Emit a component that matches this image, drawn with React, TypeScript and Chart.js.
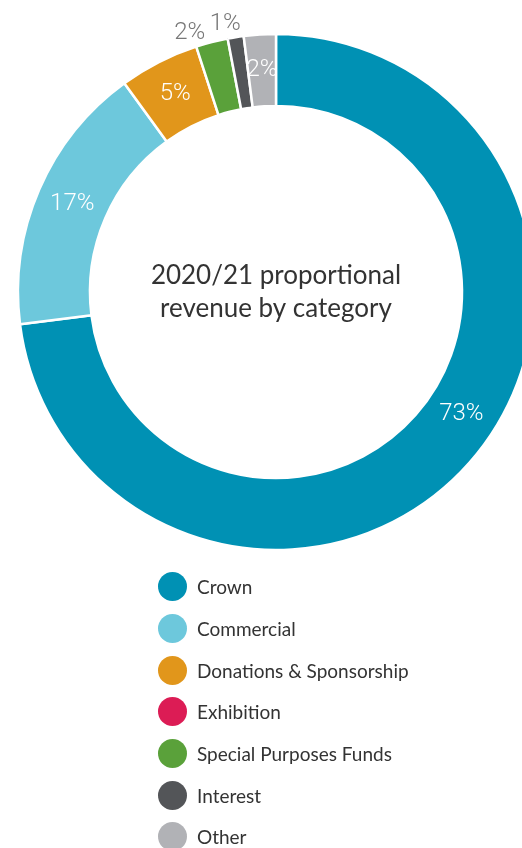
import React, { useEffect, useRef } from "react";
import { Chart, registerables } from "chart.js";

Chart.register(...registerables);

const categories = [
  "Crown",
  "Commercial",
  "Donations & Sponsorship",
  "Exhibition",
  "Special Purposes Funds",
  "Interest",
  "Other",
];
const shares = [73, 17, 5, 0, 2, 1, 2];
const sliceColors = [
  "#0091b4",
  "#6dc8dc",
  "#e1961b",
  "#dc1c55",
  "#5aa13a",
  "#535558",
  "#b1b2b6",
];
const titleLines = ["2020/21 proportional", "revenue by category"];

// label styling: which slices get an outside (grey) label, and small angle nudges (degrees)
const outsideLabel = [false, false, false, false, true, true, false];
const labelNudgeDeg = [-8, 0, 0, 0, -4, -1.7, 0];

const TEXT_FONT = "Lato, 'Noto Sans', sans-serif";

const labelPlugin = {
  id: "sliceLabels",
  afterDatasetsDraw(chart: any) {
    const { ctx } = chart;
    const meta = chart.getDatasetMeta(0);
    const data = chart.data.datasets[0].data as number[];
    ctx.save();
    ctx.font = "300 24px Roboto, sans-serif";
    ctx.textAlign = "center";
    ctx.textBaseline = "middle";
    meta.data.forEach((arc: any, i: number) => {
      const v = data[i];
      if (!v) return;
      const p = arc.getProps(["x", "y", "startAngle", "endAngle", "innerRadius", "outerRadius"], true);
      const a = (p.startAngle + p.endAngle) / 2 + (labelNudgeDeg[i] * Math.PI) / 180;
      let r: number;
      if (outsideLabel[i]) {
        r = p.outerRadius + 15;
        ctx.fillStyle = "#777777";
      } else {
        r = (p.innerRadius + p.outerRadius) / 2;
        ctx.fillStyle = "#ffffff";
      }
      ctx.fillText(v + "%", p.x + Math.cos(a) * r, p.y + Math.sin(a) * r);
    });
    ctx.restore();
  },
};

const centerTextPlugin = {
  id: "centerText",
  afterDraw(chart: any) {
    const { ctx } = chart;
    const meta = chart.getDatasetMeta(0);
    const arc = meta.data[0];
    if (!arc) return;
    ctx.save();
    ctx.font = "400 26px " + TEXT_FONT;
    ctx.fillStyle = "#333333";
    ctx.textAlign = "center";
    ctx.textBaseline = "middle";
    const lh = 33;
    titleLines.forEach((t, i) => {
      ctx.fillText(t, arc.x, arc.y + (i - (titleLines.length - 1) / 2) * lh);
    });
    ctx.restore();
  },
};

export default function App() {
  const ref = useRef<HTMLCanvasElement | null>(null);
  useEffect(() => {
    if (!ref.current) return;
    const chart = new Chart(ref.current, {
      type: "doughnut",
      data: {
        labels: categories,
        datasets: [
          {
            data: shares,
            backgroundColor: sliceColors,
            borderColor: "#ffffff",
            borderWidth: 2.5,
          },
        ],
      },
      options: {
        responsive: false,
        animation: false,
        radius: 258,
        cutout: "72.1%",
        layout: { padding: { top: 0, bottom: 16, left: 0, right: 0 } },
        plugins: {
          legend: { display: false },
          tooltip: { enabled: false },
        },
      },
      plugins: [labelPlugin, centerTextPlugin],
    });
    return () => chart.destroy();
  }, []);

  return (
    <div
      style={{
        position: "absolute",
        left: 0,
        top: 0,
        width: 522,
        height: 848,
        overflow: "hidden",
        background: "#ffffff",
      }}
    >
      <canvas
        ref={ref}
        width={552}
        height={600}
        style={{ position: "absolute", left: 0, top: 0, width: 552, height: 600 }}
      />
      <div style={{ position: "absolute", left: 158, top: 566 }}>
        {categories.map((c, i) => (
          <div
            key={c}
            style={{
              display: "flex",
              alignItems: "center",
              height: 41.7,
              fontFamily: TEXT_FONT,
              fontSize: 19,
              color: "#333333",
            }}
          >
            <span
              style={{
                display: "inline-block",
                width: 29,
                height: 29,
                borderRadius: "50%",
                background: sliceColors[i],
                marginRight: 10,
              }}
            />
            <span>{c}</span>
          </div>
        ))}
      </div>
    </div>
  );
}
